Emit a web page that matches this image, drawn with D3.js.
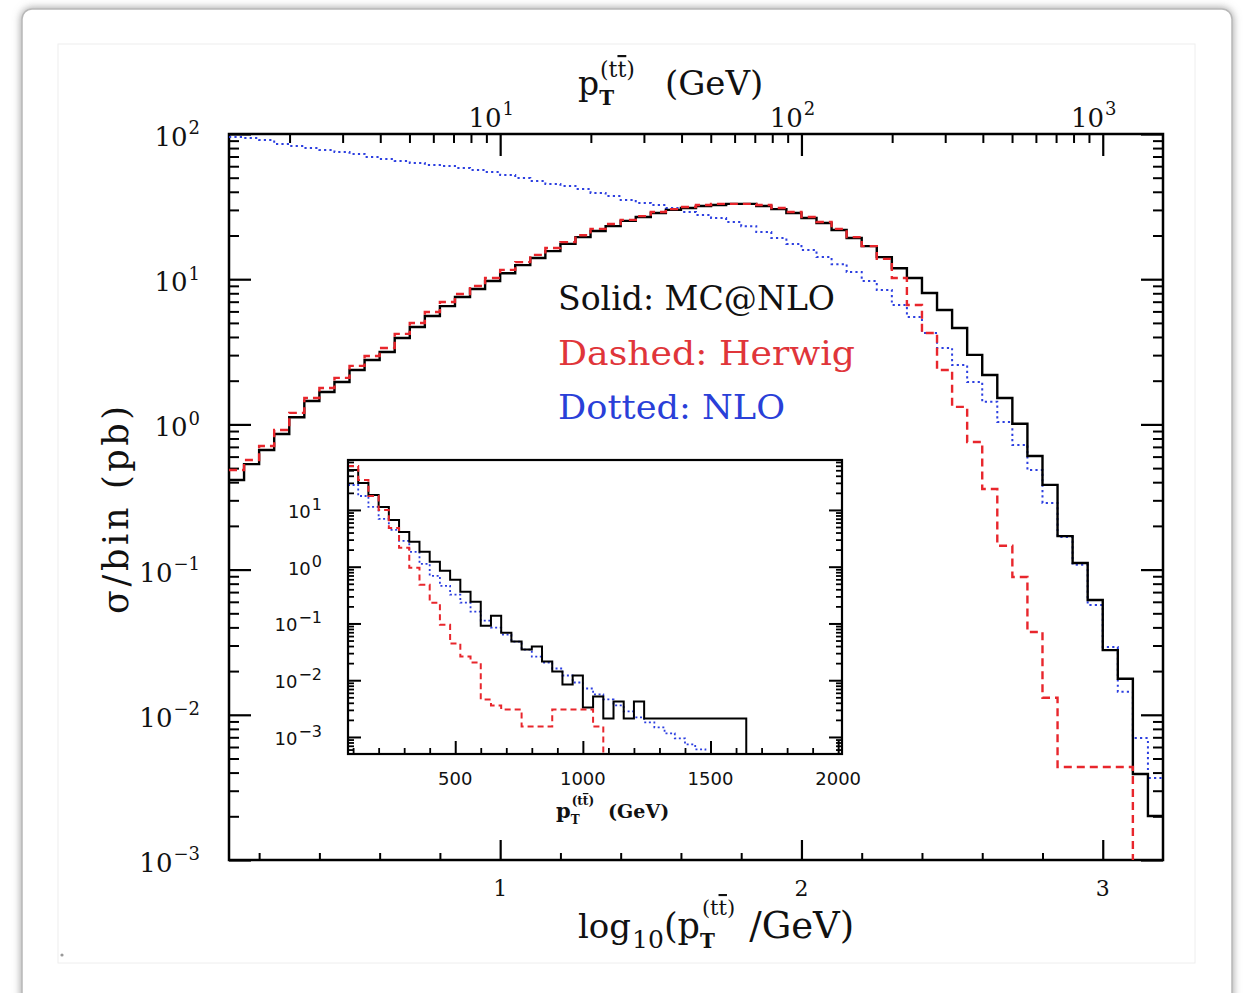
<!DOCTYPE html>
<html>
<head>
<meta charset="utf-8">
<script src="https://cdn.jsdelivr.net/npm/d3@7"></script>
<style>
  body { margin: 0; background: #fff; }
  svg { display: block; }
</style>
</head>
<body>
<svg id="chart" width="1245" height="993"></svg>
<script>
// ---- main histogram: bins in log10(pT/GeV), width 0.05 starting at 0.1 ----
const mainBinStart = 0.1;
const mainBinWidth = 0.05;
const mcatnlo = [0.414, 0.533, 0.667, 0.859, 1.12, 1.45, 1.67, 1.96, 2.37, 2.78,
  3.15, 3.94, 4.69, 5.58, 6.53, 7.54, 8.57, 9.72, 11.0, 12.5,
  14.0, 15.6, 17.5, 19.5, 21.5, 23.2, 25.2, 26.8, 28.6, 30.0,
  30.9, 31.9, 32.4, 33.0, 33.0, 31.9, 30.4, 28.6, 26.4, 24.4,
  21.8, 19.2, 16.9, 14.2, 11.9, 10.2, 8.03, 6.14, 4.61, 3.01,
  2.19, 1.52, 1.01, 0.606, 0.383, 0.170, 0.111, 0.0618, 0.0279, 0.0177,
  0.00391, 0.00201];
const herwig = [0.485, 0.569, 0.710, 0.914, 1.20, 1.52, 1.78, 2.09, 2.53, 2.96,
  3.36, 4.20, 4.99, 5.94, 6.97, 7.91, 8.98, 10.2, 11.6, 13.1,
  14.7, 16.4, 18.0, 20.1, 22.2, 24.0, 25.6, 27.2, 29.0, 30.4,
  31.4, 32.4, 33.0, 33.0, 33.0, 32.4, 30.9, 29.0, 26.8, 24.8,
  22.2, 19.5, 16.9, 13.8, 10.2, 6.64, 4.26, 2.37, 1.32, 0.757,
  0.359, 0.146, 0.0889, 0.0372, 0.0131, 0.00437, 0.00437, 0.00437, 0.00437, 0.00437,
  0, 0];
const nlo = [95.3, 93.9, 90.9, 85.3, 82.7, 80.1, 77.6, 75.2, 72.9, 69.4,
  67.3, 65.2, 63.2, 61.2, 60.2, 58.4, 56.6, 54.8, 52.2, 49.8,
  47.5, 45.3, 43.9, 41.8, 39.3, 37.4, 35.1, 33.5, 32.4, 30.9,
  29.0, 27.7, 26.4, 24.8, 23.2, 21.1, 19.2, 17.5, 15.9, 14.2,
  12.7, 11.2, 9.72, 8.44, 6.64, 5.50, 4.26, 3.36, 2.56, 1.96,
  1.43, 1.04, 0.722, 0.485, 0.288, 0.168, 0.108, 0.0570, 0.0293, 0.0144,
  0.00692, 0.00367];

// ---- inset histogram: bins in pT (GeV), width 40 starting at 80 ----
const insetBinStart = 80;
const insetBinWidth = 40;
const insetMcatnlo = [50.5, 29.8, 18.4, 11.3, 6.67, 4.10, 2.74, 1.83, 1.22, 0.847,
  0.589, 0.362, 0.242, 0.0914, 0.137, 0.0689, 0.0479, 0.0347, 0.0391, 0.0213,
  0.0142, 0.00840, 0.0121, 0.00331, 0.00517, 0.00212, 0.00423, 0.00212, 0.00423, 0.00212,
  0.00212, 0.00212, 0.00212, 0.00212, 0.00212, 0.00212, 0.00212, 0.00212, 0.00212, 0];
const insetHerwig = [59.3, 33.6, 17.6, 10.0, 4.83, 2.15, 0.957, 0.481, 0.232, 0.0953,
  0.0442, 0.0261, 0.0205, 0.00458, 0.00359, 0.00306, 0.00306, 0.00153, 0.00153, 0.00153,
  0.00306, 0.00306, 0.00306, 0.00306, 0.00153, 0];
const insetNlo = [27.5, 17.6, 11.3, 6.95, 4.46, 2.85, 1.83, 1.12, 0.692, 0.461,
  0.321, 0.232, 0.161, 0.112, 0.0843, 0.0635, 0.0479, 0.0347, 0.0261, 0.0205,
  0.0161, 0.0121, 0.00912, 0.00715, 0.00561, 0.00458, 0.00359, 0.00282, 0.00221, 0.00181,
  0.00148, 0.00116, 0.000944, 0.000741, 0.000605, 0.00049];

// ---- tick labels and legend text ----
const yDecades = [-3, -2, -1, 0, 1, 2];
const bottomLabels = [1, 2, 3];
const topDecades = [1, 2, 3];
const insetYDecades = [-3, -2, -1, 0, 1];
const insetXLabels = [500, 1000, 1500, 2000];
const legendLabels = ["Solid: MC@NLO", "Dashed: Herwig", "Dotted: NLO"];

// legend styling
const legendColors = ["#111", "#e0353a", "#2a3fd8"];
const legendWidths = [277, 297, 227];

const RED = "#e8262c", BLUE = "#2c3fe0", BLACK = "#000";
const SERIF = "'DejaVu Serif', serif";
const SANS = "'DejaVu Sans', sans-serif";

const svg = d3.select("#chart");

// ---- page card ----
const defs = svg.append("defs");
const shadow = defs.append("filter").attr("id", "shadow")
  .attr("x", "-5%").attr("y", "-5%").attr("width", "110%").attr("height", "110%");
shadow.append("feDropShadow").attr("dx", 0).attr("dy", 0)
  .attr("stdDeviation", 4).attr("flood-color", "#777").attr("flood-opacity", 0.75);
svg.append("rect").attr("x", 22).attr("y", 9).attr("width", 1210).attr("height", 1030)
  .attr("rx", 10).attr("fill", "#fff").attr("stroke", "#b8b8b8").attr("stroke-width", 1.5)
  .attr("filter", "url(#shadow)");
svg.append("rect").attr("x", 58).attr("y", 44).attr("width", 1137).attr("height", 919)
  .attr("fill", "none").attr("stroke", "#eeeeee").attr("stroke-width", 1);
svg.append("circle").attr("cx", 62).attr("cy", 955).attr("r", 1.6).attr("fill", "#999");

// ---- main scales ----
const M = { left: 229, right: 1163, top: 134, bottom: 860 };
const xMain = d3.scaleLinear().domain([0.1, 3.2]).range([M.left, M.right]);
const xTop = d3.scaleLog().domain([Math.pow(10, 0.1), Math.pow(10, 3.2)]).range([M.left, M.right]);
const yMain = d3.scaleLog().domain([1e-3, 1e2]).range([M.bottom, M.top]);

function logMinor(lo, hi) {
  const out = [];
  for (let e = Math.floor(Math.log10(lo)) - 1; e <= Math.ceil(Math.log10(hi)); e++) {
    for (let m = 2; m <= 9; m++) {
      const v = m * Math.pow(10, e);
      if (v > lo * 1.0001 && v < hi * 0.9999) out.push(v);
    }
  }
  return out;
}

function tickSet(axisFn, scale, values, size, transform, width) {
  const g = svg.append("g").attr("transform", transform)
    .call(axisFn(scale).tickValues(values).tickSize(size).tickSizeOuter(0).tickFormat(""));
  g.select(".domain").remove();
  g.selectAll(".tick line").attr("stroke", BLACK).attr("stroke-width", width);
  return g;
}

// main ticks (pointing inward)
const yMajor = yDecades.map(e => Math.pow(10, e));
const yMinor = logMinor(1e-3, 1e2);
tickSet(d3.axisLeft, yMain, yMinor, -10, `translate(${M.left},0)`, 2);
tickSet(d3.axisLeft, yMain, yMajor, -22, `translate(${M.left},0)`, 2.2);
tickSet(d3.axisRight, yMain, yMinor, -10, `translate(${M.right},0)`, 2);
tickSet(d3.axisRight, yMain, yMajor, -22, `translate(${M.right},0)`, 2.2);

const bMinor = d3.range(2, 32, 2).map(v => v / 10).filter(v => Math.abs(v - Math.round(v)) > 1e-6);
tickSet(d3.axisBottom, xMain, bMinor, -7, `translate(0,${M.bottom})`, 2);
tickSet(d3.axisBottom, xMain, bottomLabels, -20, `translate(0,${M.bottom})`, 2.2);

const topMajor = topDecades.map(e => Math.pow(10, e));
const topMinor = logMinor(Math.pow(10, 0.1), Math.pow(10, 3.2)).filter(v => !topMajor.includes(v));
tickSet(d3.axisTop, xTop, topMinor, -9, `translate(0,${M.top})`, 2);
tickSet(d3.axisTop, xTop, topMajor, -22, `translate(0,${M.top})`, 2.2);

// main frame
svg.append("rect").attr("x", M.left).attr("y", M.top)
  .attr("width", M.right - M.left).attr("height", M.bottom - M.top)
  .attr("fill", "none").attr("stroke", BLACK).attr("stroke-width", 2.5);

// ---- histogram step outlines ----
function stepPoints(start, width, values, x, y, floorPx) {
  const pts = [];
  for (let i = 0; i < values.length; i++) {
    const x0 = x(start + i * width), x1 = x(start + (i + 1) * width);
    const v = values[i];
    if (!(v > 0)) { pts.push([x0, floorPx]); break; }
    const py = y(v);
    pts.push([x0, py], [x1, py]);
  }
  return pts;
}
const line = d3.line();

defs.append("clipPath").attr("id", "clipMain").append("rect")
  .attr("x", M.left).attr("y", M.top).attr("width", M.right - M.left).attr("height", M.bottom - M.top);
const gMain = svg.append("g").attr("clip-path", "url(#clipMain)");

gMain.append("path")
  .attr("d", line(stepPoints(mainBinStart, mainBinWidth, nlo, xMain, yMain, M.bottom)))
  .attr("fill", "none").attr("stroke", BLUE).attr("stroke-width", 2)
  .attr("stroke-dasharray", "2.2,3.2");
gMain.append("path")
  .attr("d", line(stepPoints(mainBinStart, mainBinWidth, mcatnlo, xMain, yMain, M.bottom)))
  .attr("fill", "none").attr("stroke", BLACK).attr("stroke-width", 2.4);
gMain.append("path")
  .attr("d", line(stepPoints(mainBinStart, mainBinWidth, herwig, xMain, yMain, M.bottom)))
  .attr("fill", "none").attr("stroke", RED).attr("stroke-width", 2.4)
  .attr("stroke-dasharray", "8,5");

// ---- axis labels ----
function powLabel(x, y, exp, size, supSize, anchor, family) {
  const t = svg.append("text").attr("x", x).attr("y", y)
    .attr("text-anchor", anchor).attr("font-family", family)
    .attr("font-size", size).attr("fill", "#111");
  t.append("tspan").text("10");
  t.append("tspan").attr("dx", 1).attr("dy", -size * 0.45).attr("font-size", supSize)
    .text(exp < 0 ? "\u2212" + (-exp) : String(exp));
  return t;
}
yDecades.forEach(e => powLabel(200, yMain(Math.pow(10, e)) + 12, e, 26, 18, "end", SERIF));
topDecades.forEach(e => powLabel(xTop(Math.pow(10, e)) - 9, 127, e, 26, 18, "middle", SERIF));
bottomLabels.forEach(v => {
  svg.append("text").attr("x", xMain(v)).attr("y", 896).attr("text-anchor", "middle")
    .attr("font-family", SERIF).attr("font-size", 22).attr("fill", "#111").text(v);
});

// multi-part label: each part is a tspan with its own size and offsets
function richText(x, y, parts, family, color) {
  const t = svg.append("text").attr("x", x).attr("y", y)
    .attr("font-family", family).attr("fill", color || "#111");
  parts.forEach(p => {
    const s = t.append("tspan").attr("font-size", p.size).text(p.text);
    if (p.dx) s.attr("dx", p.dx);
    if (p.dy) s.attr("dy", p.dy);
    if (p.bold) s.attr("font-weight", "bold");
    if (p.over) s.style("text-decoration", "overline");
  });
  return t;
}

// top title: pT(tt) (GeV)
richText(578, 95, [
  { text: "p", size: 33 },
  { text: "T", size: 20, bold: true, dy: 10 },
  { text: "(t", size: 22, dx: -14, dy: -28 },
  { text: "t", size: 22, over: true },
  { text: ")", size: 22 },
  { text: "(GeV)", size: 34, dx: 30, dy: 18 }
], SERIF);

// bottom title: log10(pT(tt)/GeV)
richText(578, 938, [
  { text: "log", size: 34 },
  { text: "10", size: 25, dx: 1, dy: 10 },
  { text: "(p", size: 35, dy: -10 },
  { text: "T", size: 20, bold: true, dy: 10 },
  { text: "(t", size: 21, dx: -13, dy: -33 },
  { text: "t", size: 21, over: true },
  { text: ")", size: 21 },
  { text: "/GeV)", size: 37, dx: 14, dy: 23 }
], SERIF);

// y title
svg.append("text")
  .attr("transform", "translate(128,510) rotate(-90)")
  .attr("text-anchor", "middle").attr("font-family", SERIF).attr("font-size", 35)
  .attr("fill", "#111").attr("textLength", 208).attr("lengthAdjust", "spacing")
  .text("\u03c3/bin (pb)");

// legend
legendLabels.forEach((d, i) => {
  svg.append("text").attr("x", 558).attr("y", 310 + i * 54.5)
    .attr("font-family", SERIF).attr("font-size", 33.5).attr("fill", legendColors[i])
    .attr("textLength", legendWidths[i]).attr("lengthAdjust", "spacingAndGlyphs")
    .text(d);
});

// ---- inset ----
const I = { left: 348, right: 842, top: 460, bottom: 754 };
const xIn = d3.scaleLinear().domain([80, 2015]).range([I.left, I.right]);
const yIn = d3.scaleLog().domain([Math.pow(10, -3.3), Math.pow(10, 1.88)]).range([I.bottom, I.top]);

svg.append("rect").attr("x", I.left).attr("y", I.top)
  .attr("width", I.right - I.left).attr("height", I.bottom - I.top).attr("fill", "#fff");

const inYMajor = insetYDecades.map(e => Math.pow(10, e));
const inYMinor = logMinor(Math.pow(10, -3.3), Math.pow(10, 1.88)).filter(v => !inYMajor.includes(v));
tickSet(d3.axisLeft, yIn, inYMinor, -6, `translate(${I.left},0)`, 1.8);
tickSet(d3.axisLeft, yIn, inYMajor, -13, `translate(${I.left},0)`, 2);
tickSet(d3.axisRight, yIn, inYMinor, -6, `translate(${I.right},0)`, 1.8);
tickSet(d3.axisRight, yIn, inYMajor, -13, `translate(${I.right},0)`, 2);
const inXMinor = d3.range(100, 2001, 100).filter(v => v % 500 !== 0);
tickSet(d3.axisBottom, xIn, inXMinor, -6, `translate(0,${I.bottom})`, 1.8);
tickSet(d3.axisBottom, xIn, insetXLabels, -13, `translate(0,${I.bottom})`, 2);

defs.append("clipPath").attr("id", "clipInset").append("rect")
  .attr("x", I.left).attr("y", I.top).attr("width", I.right - I.left).attr("height", I.bottom - I.top);
const gIn = svg.append("g").attr("clip-path", "url(#clipInset)");
gIn.append("path")
  .attr("d", line(stepPoints(insetBinStart, insetBinWidth, insetNlo, xIn, yIn, I.bottom)))
  .attr("fill", "none").attr("stroke", BLUE).attr("stroke-width", 1.8)
  .attr("stroke-dasharray", "2,2.6");
gIn.append("path")
  .attr("d", line(stepPoints(insetBinStart, insetBinWidth, insetMcatnlo, xIn, yIn, I.bottom)))
  .attr("fill", "none").attr("stroke", BLACK).attr("stroke-width", 2);
gIn.append("path")
  .attr("d", line(stepPoints(insetBinStart, insetBinWidth, insetHerwig, xIn, yIn, I.bottom)))
  .attr("fill", "none").attr("stroke", RED).attr("stroke-width", 2)
  .attr("stroke-dasharray", "6,4");

svg.append("rect").attr("x", I.left).attr("y", I.top)
  .attr("width", I.right - I.left).attr("height", I.bottom - I.top)
  .attr("fill", "none").attr("stroke", BLACK).attr("stroke-width", 2.2);

insetYDecades.forEach(e => powLabel(322, yIn(Math.pow(10, e)) + 8, e, 18, 16, "end", SANS));
insetXLabels.forEach(v => {
  svg.append("text").attr("x", xIn(v)).attr("y", 785).attr("text-anchor", "middle")
    .attr("font-family", SANS).attr("font-size", 18).attr("fill", "#111").text(v);
});

// inset x title
richText(556, 818, [
  { text: "p", size: 21, bold: true },
  { text: "T", size: 12, bold: true, dy: 6 },
  { text: "(t", size: 12, bold: true, dx: -8, dy: -19 },
  { text: "t", size: 12, bold: true, over: true },
  { text: ")", size: 12, bold: true },
  { text: "(GeV)", size: 19, bold: true, dx: 14, dy: 13 }
], SERIF);
</script>
</body>
</html>
